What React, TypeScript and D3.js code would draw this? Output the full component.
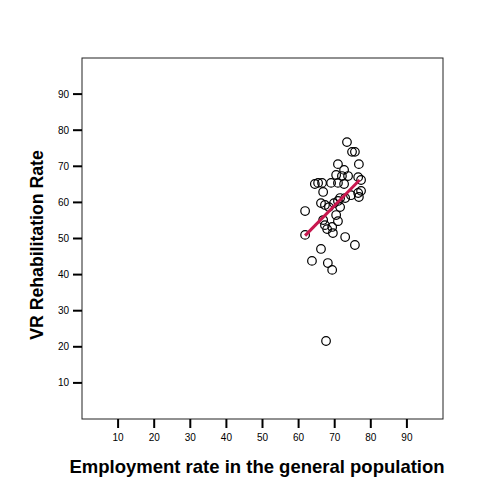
import React, { useEffect, useRef } from 'react';
import * as d3 from 'd3';

// employment rate (x) vs VR rehabilitation rate (y), one point per state
const employmentRate = [
  73.4, 74.8, 75.6, 70.9, 76.7, 72.6, 70.4, 72.0, 76.5, 69.0,
  70.9, 72.6, 73.7, 64.5, 65.4, 66.5, 66.8, 77.3, 76.5, 77.3,
  74.5, 72.9, 70.9, 69.8, 71.5, 76.7, 61.8, 66.2, 67.3, 68.4,
  70.4, 70.9, 66.8, 67.3, 67.9, 69.3, 69.5, 61.8, 72.9, 75.6,
  66.2, 63.7, 68.1, 69.3, 67.6, 71.5,
];
const rehabRate = [
  76.7, 74.0, 74.0, 70.6, 70.6, 69.0, 67.6, 67.3, 67.0, 65.4,
  65.4, 65.1, 67.3, 65.1, 65.4, 65.4, 62.9, 66.2, 62.6, 63.2,
  62.0, 61.2, 60.4, 59.8, 61.2, 61.5, 57.6, 59.8, 59.3, 58.7,
  56.5, 54.8, 55.1, 53.7, 52.6, 53.2, 51.5, 51.0, 50.4, 48.2,
  47.1, 43.8, 43.2, 41.3, 21.6, 58.7,
];

// fit line end points
const fitX = [61.8, 76.9];
const fitY = [50.8, 66.2];

const xTicks = [10, 20, 30, 40, 50, 60, 70, 80, 90];
const yTicks = [10, 20, 30, 40, 50, 60, 70, 80, 90];

export default function App() {
  const svgRef = useRef<SVGSVGElement>(null);

  useEffect(() => {
    if (!svgRef.current) return;
    const svg = d3.select(svgRef.current);
    svg.selectAll('*').remove();

    const left = 82, right = 443, top = 58, bottom = 419;
    const x = d3.scaleLinear().domain([0, 100]).range([left, right]);
    const y = d3.scaleLinear().domain([0, 100]).range([bottom, top]);

    svg.append('rect')
      .attr('width', 500).attr('height', 500).attr('fill', '#fff');

    // plot frame
    svg.append('rect')
      .attr('x', left).attr('y', top)
      .attr('width', right - left).attr('height', bottom - top)
      .attr('fill', 'none').attr('stroke', '#222').attr('stroke-width', 1);

    const tickFont = '"Liberation Sans Narrow", "Liberation Sans", Arial, sans-serif';

    // y axis
    const yAxis = svg.append('g');
    yAxis.selectAll('line').data(yTicks).enter().append('line')
      .attr('x1', left - 9).attr('x2', left)
      .attr('y1', d => y(d)).attr('y2', d => y(d))
      .attr('stroke', '#000').attr('stroke-width', 2);
    yAxis.selectAll('text').data(yTicks).enter().append('text')
      .attr('x', left - 13).attr('y', d => y(d))
      .attr('dy', '0.35em')
      .attr('text-anchor', 'end')
      .attr('font-family', tickFont).attr('font-size', 10)
      .attr('fill', '#000')
      .text(d => d);

    // x axis
    const xAxis = svg.append('g');
    xAxis.selectAll('line').data(xTicks).enter().append('line')
      .attr('x1', d => x(d)).attr('x2', d => x(d))
      .attr('y1', bottom).attr('y2', bottom + 9)
      .attr('stroke', '#000').attr('stroke-width', 2);
    xAxis.selectAll('text').data(xTicks).enter().append('text')
      .attr('x', d => x(d)).attr('y', bottom + 22)
      .attr('text-anchor', 'middle')
      .attr('font-family', tickFont).attr('font-size', 10)
      .attr('fill', '#000')
      .text(d => d);

    // axis titles
    svg.append('text')
      .attr('x', 257).attr('y', 473)
      .attr('text-anchor', 'middle')
      .attr('font-family', '"Liberation Sans", Arial, sans-serif')
      .attr('font-weight', 'bold').attr('font-size', 18.5)
      .attr('fill', '#000')
      .text('Employment rate in the general population');

    svg.append('text')
      .attr('transform', 'translate(43,245) rotate(-90)')
      .attr('text-anchor', 'middle')
      .attr('font-family', '"Liberation Sans", Arial, sans-serif')
      .attr('font-weight', 'bold').attr('font-size', 17.7)
      .attr('fill', '#000')
      .text('VR Rehabilitation Rate');

    // points
    const points = employmentRate.map((e, i) => ({ e, r: rehabRate[i] }));
    svg.append('g').selectAll('circle').data(points).enter().append('circle')
      .attr('cx', d => x(d.e)).attr('cy', d => y(d.r))
      .attr('r', 4.3)
      .attr('fill', 'none').attr('stroke', '#000').attr('stroke-width', 1.2);

    // fit line
    const line = d3.line<number>()
      .x((_, i) => x(fitX[i]))
      .y(d => y(d));
    svg.append('path')
      .attr('d', line(fitY))
      .attr('fill', 'none')
      .attr('stroke', '#c8174e')
      .attr('stroke-width', 3);
  }, []);

  return (
    <svg
      ref={svgRef}
      width={500}
      height={500}
      style={{ position: 'absolute', left: 0, top: 0, display: 'block' }}
    />
  );
}
